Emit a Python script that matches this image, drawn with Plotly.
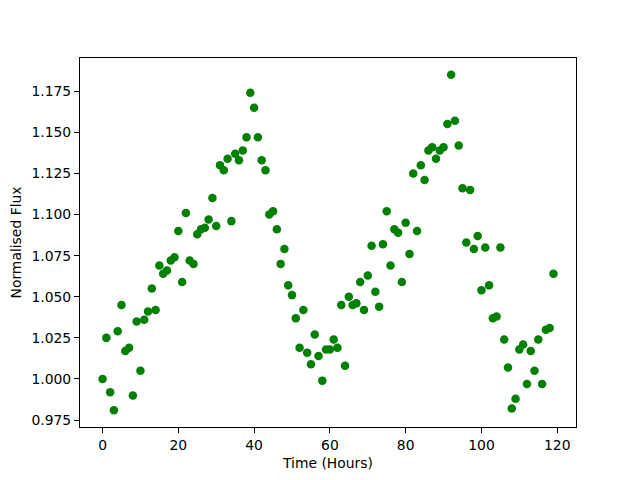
import plotly.graph_objects as go

hours = list(range(120))
flux = [
    1.000, 1.025, 0.992, 0.981, 1.029, 1.045, 1.017, 1.019, 0.990, 1.035,
    1.005, 1.036, 1.041, 1.055, 1.042, 1.069, 1.064, 1.066, 1.072, 1.074,
    1.090, 1.059, 1.101, 1.072, 1.070, 1.088, 1.091, 1.092, 1.097, 1.110,
    1.093, 1.130, 1.127, 1.134, 1.096, 1.137, 1.133, 1.139, 1.147, 1.174,
    1.165, 1.147, 1.133, 1.127, 1.100, 1.102, 1.091, 1.070, 1.079, 1.057,
    1.051, 1.037, 1.019, 1.042, 1.016, 1.009, 1.027, 1.014, 0.999, 1.018,
    1.018, 1.024, 1.019, 1.045, 1.008, 1.050, 1.045, 1.046, 1.059, 1.042,
    1.063, 1.081, 1.053, 1.044, 1.082, 1.102, 1.069, 1.091, 1.089, 1.059,
    1.095, 1.076, 1.125, 1.090, 1.130, 1.121, 1.139, 1.141, 1.134, 1.139,
    1.141, 1.155, 1.185, 1.157, 1.142, 1.116, 1.083, 1.115, 1.079, 1.087,
    1.054, 1.080, 1.057, 1.037, 1.038, 1.080, 1.024, 1.007, 0.982, 0.988,
    1.018, 1.021, 0.997, 1.017, 1.005, 1.024, 0.997, 1.030, 1.031, 1.064,
]

x_ticks = [0, 20, 40, 60, 80, 100, 120]
y_ticks = [0.975, 1.000, 1.025, 1.050, 1.075, 1.100, 1.125, 1.150, 1.175]
y_tick_labels = [f"{v:.3f}" for v in y_ticks]

font = dict(family="DejaVu Sans", size=13.9, color="black")

fig = go.Figure(
    go.Scatter(
        x=hours, y=flux, mode="markers",
        marker=dict(color="green", size=8.5, line=dict(width=0)),
    )
)

axis_common = dict(
    showgrid=False, zeroline=False, showline=True, linecolor="black",
    linewidth=1, mirror=True, ticks="outside", ticklen=5, tickwidth=1,
    tickcolor="black", tickfont=font, automargin=False,
)

xmin, xmax = min(hours), max(hours)
ymin, ymax = min(flux), max(flux)
xpad = 0.05 * (xmax - xmin)
ypad = 0.05 * (ymax - ymin)

fig.update_xaxes(
    range=[xmin - xpad, xmax + xpad], tickvals=x_ticks,
    title=dict(text="Time (Hours)", font=font, standoff=6),
    **axis_common,
)
fig.update_yaxes(
    range=[ymin - ypad, ymax + ypad], tickvals=y_ticks, ticktext=y_tick_labels,
    title=dict(text="Normalised Flux", font=font, standoff=6),
    **axis_common,
)

fig.update_layout(
    width=640, height=480,
    margin=dict(l=72, r=72, t=50, b=61),
    plot_bgcolor="white", paper_bgcolor="white",
    showlegend=False,
)

fig.write_html("out.html")
